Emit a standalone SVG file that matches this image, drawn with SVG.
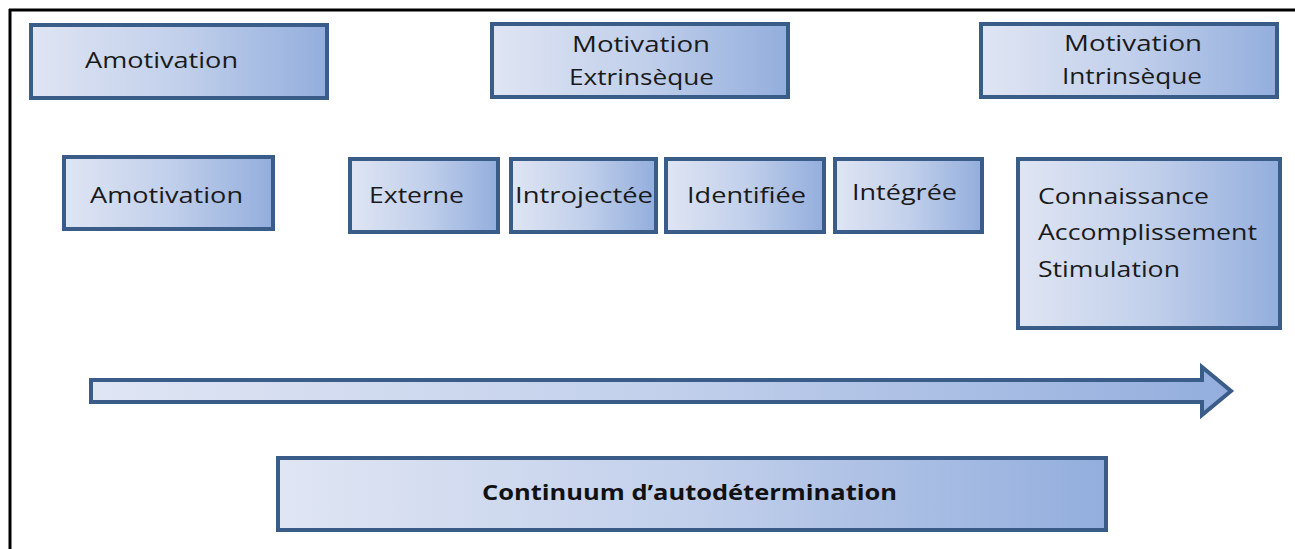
<svg xmlns="http://www.w3.org/2000/svg" width="1295" height="549" viewBox="0 0 1295 549">
<defs>
<linearGradient id="g" x1="0" y1="0" x2="1" y2="0">
<stop offset="0" stop-color="#dfe5f3"/>
<stop offset="0.5" stop-color="#c2d0eb"/>
<stop offset="1" stop-color="#93aedd"/>
</linearGradient>
<style>
.box{fill:url(#g);stroke:#3a5c89;stroke-width:4}
.t{font-family:"Open Sans","Liberation Sans",sans-serif;font-size:22px;fill:#1a1a1a}
.b{font-family:"Open Sans","Liberation Sans",sans-serif;font-size:21px;font-weight:bold;fill:#111}
</style>
</defs>
<rect width="1295" height="549" fill="#fff"/>
<g id="frame">
<line x1="9" y1="10" x2="1295" y2="10" stroke="#000" stroke-width="3"/>
<line x1="10" y1="9" x2="10" y2="549" stroke="#000" stroke-width="3"/>
</g>
<g id="n-amotivation-top">
<rect class="box" x="31" y="25" width="296" height="73"/>
<text class="t" x="85" y="68" textLength="153" lengthAdjust="spacingAndGlyphs">Amotivation</text>
</g>
<g id="n-extrinseque">
<rect class="box" x="492" y="24" width="296" height="73"/>
<text class="t" x="572" y="52" textLength="138" lengthAdjust="spacingAndGlyphs">Motivation</text>
<text class="t" x="569" y="85" textLength="145" lengthAdjust="spacingAndGlyphs">Extrinsèque</text>
</g>
<g id="n-intrinseque">
<rect class="box" x="981" y="24" width="296" height="73"/>
<text class="t" x="1064" y="51" textLength="138" lengthAdjust="spacingAndGlyphs">Motivation</text>
<text class="t" x="1062" y="84" textLength="140" lengthAdjust="spacingAndGlyphs">Intrinsèque</text>
</g>
<g id="n-amotivation">
<rect class="box" x="64" y="157" width="209" height="72"/>
<text class="t" x="90" y="203" textLength="153" lengthAdjust="spacingAndGlyphs">Amotivation</text>
</g>
<g id="n-externe">
<rect class="box" x="350" y="159" width="148" height="73"/>
<text class="t" x="369" y="203" textLength="95" lengthAdjust="spacingAndGlyphs">Externe</text>
</g>
<g id="n-introjectee">
<rect class="box" x="511" y="159" width="145" height="73"/>
<text class="t" x="515" y="203" textLength="138" lengthAdjust="spacingAndGlyphs">Introjectée</text>
</g>
<g id="n-identifiee">
<rect class="box" x="666" y="159" width="158" height="73"/>
<text class="t" x="687" y="203" textLength="119" lengthAdjust="spacingAndGlyphs">Identifiée</text>
</g>
<g id="n-integree">
<rect class="box" x="835" y="159" width="147" height="73"/>
<text class="t" x="852" y="200" textLength="105" lengthAdjust="spacingAndGlyphs">Intégrée</text>
</g>
<g id="n-intrinseque-types">
<rect class="box" x="1018" y="159" width="262" height="169"/>
<text class="t" x="1038" y="204" textLength="171" lengthAdjust="spacingAndGlyphs">Connaissance</text>
<text class="t" x="1038" y="240" textLength="219" lengthAdjust="spacingAndGlyphs">Accomplissement</text>
<text class="t" x="1038" y="277" textLength="142" lengthAdjust="spacingAndGlyphs">Stimulation</text>
</g>
<g id="connectors">
<polygon class="box" points="91,380 1202,380 1202,367 1231,391 1202,415 1202,402 91,402"/>
</g>
<g id="n-continuum">
<rect class="box" x="278" y="458" width="828" height="72"/>
<text class="b" x="482" y="500" textLength="415" lengthAdjust="spacingAndGlyphs">Continuum d’autodétermination</text>
</g>
</svg>
